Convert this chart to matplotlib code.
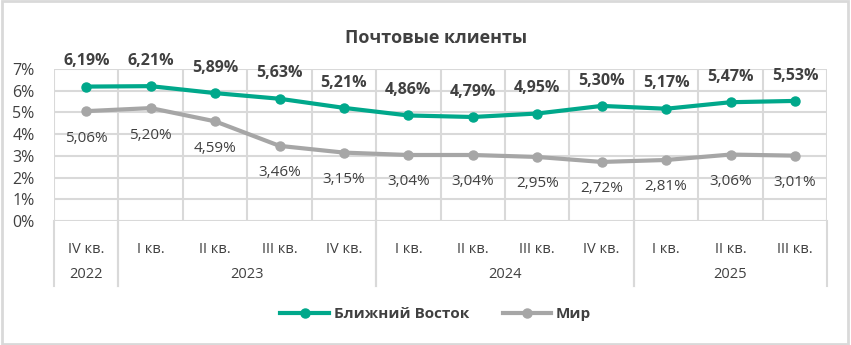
import matplotlib.pyplot as plt
from matplotlib.patches import Rectangle
import matplotlib.transforms as mtransforms

plt.rcParams['font.family'] = ['Open Sans', 'DejaVu Sans']

quarters = ['IV кв.', 'I кв.', 'II кв.', 'III кв.', 'IV кв.', 'I кв.', 'II кв.',
            'III кв.', 'IV кв.', 'I кв.', 'II кв.', 'III кв.']
years = ['2022', '2023', '2024', '2025']
year_span = [(0, 0), (1, 4), (5, 8), (9, 11)]
near_east = [6.19, 6.21, 5.89, 5.63, 5.21, 4.86, 4.79, 4.95, 5.30, 5.17, 5.47, 5.53]
world = [5.06, 5.20, 4.59, 3.46, 3.15, 3.04, 3.04, 2.95, 2.72, 2.81, 3.06, 3.01]

green = '#00A88B'
grey = '#A6A6A6'
text_c = '#404040'
grid_c = '#D9D9D9'

fig = plt.figure(figsize=(8.51, 3.45), dpi=100)
ax = fig.add_axes([0.0635, 0.3594, 0.9085, 0.4406])

x = list(range(len(quarters)))
ne = [v / 100 for v in near_east]
wd = [v / 100 for v in world]

ax.plot(x, ne, color=green, lw=3, marker='o', ms=6.5, zorder=3, label='Ближний Восток')
ax.plot(x, wd, color=grey, lw=3, marker='o', ms=6.5, zorder=3, label='Мир')

for i in x:
    ax.annotate(f'{near_east[i]:.2f}%'.replace('.', ','), (i, ne[i]),
                xytext=(0, 12.5), textcoords='offset points', ha='center', va='bottom',
                fontsize=11.5, fontweight='bold', color=text_c)
    ax.annotate(f'{world[i]:.2f}%'.replace('.', ','), (i, wd[i]),
                xytext=(0, -14), textcoords='offset points', ha='center', va='top',
                fontsize=11, color=text_c)

ax.set_xlim(-0.5, len(quarters) - 0.5)
ax.set_ylim(0, 0.07)
ax.set_yticks([k / 100 for k in range(8)])
ax.set_yticklabels([f'{k}%' for k in range(8)], fontsize=11.5, color=text_c)
ax.tick_params(axis='y', length=0, pad=14)

ax.set_xticks(x)
ax.set_xticklabels(quarters, fontsize=10.5, color=text_c)
ax.tick_params(axis='x', length=0, pad=15)

# grid
for k in range(8):
    ax.axhline(k / 100, color=grid_c, lw=1.5, zorder=1)
for b in range(len(quarters) + 1):
    ax.axvline(b - 0.5, color=grid_c, lw=1.5, zorder=1)
for s in ax.spines.values():
    s.set_visible(False)

# year groups below the axis
trans = mtransforms.blended_transform_factory(ax.transData, ax.transAxes)
for name, (a, b) in zip(years, year_span):
    ax.text((a + b) / 2, -0.355, name, transform=trans, ha='center', va='center',
            fontsize=10.5, color=text_c)
    for edge in (a - 0.5, b + 0.5):
        ax.plot([edge, edge], [0, -0.43], transform=trans, color=grid_c, lw=1.5,
                clip_on=False)

fig.text(0.512, 0.89, 'Почтовые клиенты', ha='center', va='center',
         fontsize=13, fontweight='bold', color=text_c)

leg = fig.legend(loc='center', bbox_to_anchor=(0.512, 0.09), ncol=2, frameon=False,
                 handlelength=3.2, columnspacing=2.2, handletextpad=0.3,
                 prop={'size': 11, 'weight': 'bold'})
for t in leg.get_texts():
    t.set_color(text_c)

fig.patches.append(Rectangle((0.002, 0.004), 0.995, 0.992, transform=fig.transFigure,
                             fill=False, ec=grid_c, lw=2))

fig.savefig('out.png', dpi=100)
